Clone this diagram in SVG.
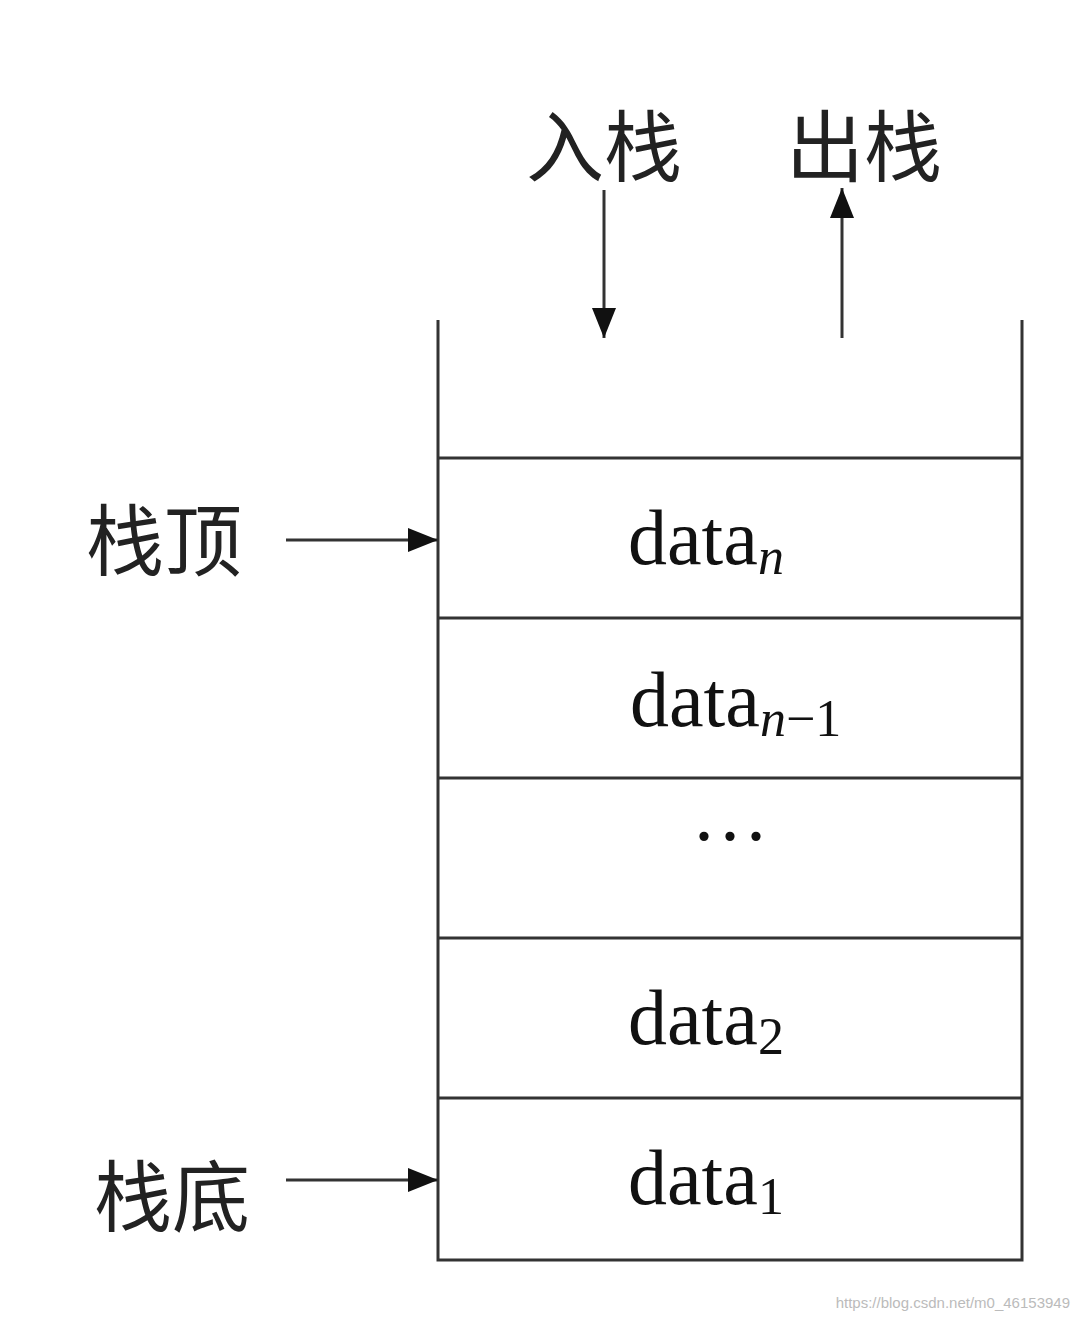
<svg xmlns="http://www.w3.org/2000/svg" width="1080" height="1320" viewBox="0 0 1080 1320">
<defs>
<marker id="ah" markerWidth="10" markerHeight="10" refX="9" refY="5" orient="auto" markerUnits="userSpaceOnUse" viewBox="0 0 10 10"><path d="M0,0 L10,5 L0,10 z" fill="#000"/></marker>
<marker id="a" viewBox="0 0 30 30" refX="30" refY="15" markerWidth="30" markerHeight="30" markerUnits="userSpaceOnUse" orient="auto"><path d="M0,3 L30,15 L0,27 z" fill="#111"/></marker>
<style>
.l{stroke:#333;stroke-width:3;fill:none}
.c{font-family:"Liberation Serif","Noto Sans CJK SC",serif;font-size:78px;fill:#222}
.d{font-family:"Liberation Serif",serif;font-size:78px;fill:#111}
.s{font-size:52px}
</style>
</defs>
<rect width="1080" height="1320" fill="#fff"/>
<g id="stack">
<path class="l" d="M438,320 V1260 H1022 V320"/>
<path class="l" d="M438,458 H1022 M438,618 H1022 M438,778 H1022 M438,938 H1022 M438,1098 H1022"/>
</g>
<g id="connectors">
<line class="l" x1="604" y1="190" x2="604" y2="338" marker-end="url(#a)"/>
<line class="l" x1="842" y1="338" x2="842" y2="188" marker-end="url(#a)"/>
<line class="l" x1="286" y1="540" x2="438" y2="540" marker-end="url(#a)"/>
<line class="l" x1="286" y1="1180" x2="438" y2="1180" marker-end="url(#a)"/>
</g>
<g id="push"><text class="c" x="604" y="176" text-anchor="middle">入栈</text></g>
<g id="pop"><text class="c" x="864" y="176" text-anchor="middle">出栈</text></g>
<g id="top"><text class="c" x="164" y="570" text-anchor="middle">栈顶</text></g>
<g id="bottom"><text class="c" x="172" y="1226" text-anchor="middle">栈底</text></g>
<g id="n"><text class="d" x="628" y="564">data<tspan class="s" font-style="italic" dy="10">n</tspan></text></g>
<g id="n1"><text class="d" x="630" y="726">data<tspan class="s" dy="10"><tspan font-style="italic">n</tspan>−1</tspan></text></g>
<g id="dots"><text class="d" x="730" y="862" text-anchor="middle">···</text></g>
<g id="d2"><text class="d" x="628" y="1044">data<tspan class="s" dy="10">2</tspan></text></g>
<g id="d1"><text class="d" x="628" y="1204">data<tspan class="s" dy="10">1</tspan></text></g>
<text x="1070" y="1308" text-anchor="end" font-family="Liberation Sans,sans-serif" font-size="15" fill="#bbb">https://blog.csdn.net/m0_46153949</text>
</svg>
